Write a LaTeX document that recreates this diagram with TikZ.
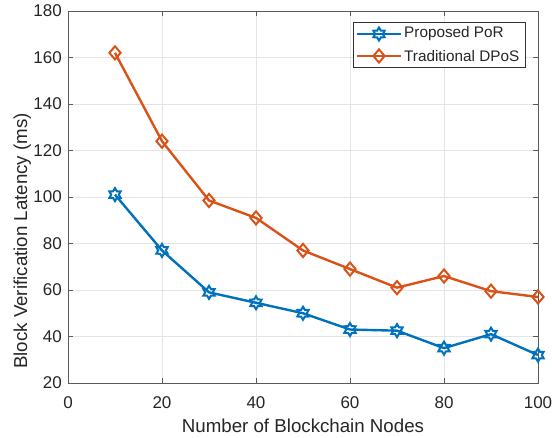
\documentclass[tikz,border=0pt]{standalone}
\usepackage{fontspec}
\setmainfont{Liberation Sans}
\usetikzlibrary{shapes.geometric,calc}

\definecolor{porblue}{RGB}{0,114,189}
\definecolor{dposorange}{RGB}{217,83,25}
\definecolor{axisgray}{RGB}{90,90,90}
\definecolor{gridgray}{RGB}{228,228,228}

\tikzset{
  ticklabel/.style={font=\fontsize{17}{17}\selectfont, text=black!85, inner sep=0pt},
  axislabel/.style={font=\fontsize{18.7}{18.7}\selectfont, text=black!85, inner sep=0pt},
  legendtext/.style={font=\fontsize{15.3}{15.3}\selectfont, text=black!85, inner sep=0pt, anchor=west},
  gridline/.style={draw=gridgray, line width=0.8pt},
  axisline/.style={draw=axisgray, line width=0.9pt},
  porline/.style={draw=porblue, line width=2.4pt, line join=round},
  dposline/.style={draw=dposorange, line width=2.4pt, line join=round},
  pormark/.style={star, star points=6, star point ratio=1.7, minimum size=13pt,
    inner sep=0pt, draw=porblue, line width=2pt},
  dposmark/.style={diamond, minimum width=12pt, minimum height=14pt,
    inner sep=0pt, draw=dposorange, line width=2pt},
}

\begin{document}
\begin{tikzpicture}[x=1pt,y=1pt]
\useasboundingbox[fill=white] (0,0) rectangle (552,438);

% data frame: x in nodes, y in ms
\begin{scope}[shift={(68pt,8.5pt)}, x=4.7pt, y=2.325pt]
  % grid
  \foreach \gx in {20,40,60,80} \draw[gridline] (\gx,20) -- (\gx,180);
  \foreach \gy in {40,60,...,160} \draw[gridline] (0,\gy) -- (100,\gy);

  % tick marks on all four sides
  \foreach \gx in {0,20,...,100} {
    \draw[axisline] (\gx,20) -- ++(0,4.7pt);
    \draw[axisline] (\gx,180) -- ++(0,-4.7pt);
  }
  \foreach \gy in {20,40,...,180} {
    \draw[axisline] (0,\gy) -- ++(4.7pt,0);
    \draw[axisline] (100,\gy) -- ++(-4.7pt,0);
  }

  % frame
  \draw[axisline] (0,20) rectangle (100,180);

  % tick labels
  \foreach \gx in {0,20,...,100}
    \node[ticklabel, anchor=base] (xt\gx) at ([yshift=-26pt]\gx,20) {\gx};
  \foreach \gy in {20,40,...,180}
    \node[ticklabel, anchor=east] (yt\gy) at ([xshift=-6pt]0,\gy) {\gy};

  % Traditional DPoS
  \foreach \i/\px/\py in {1/10/162,2/20/124,3/30/98.5,4/40/91,5/50/77,
                          6/60/69,7/70/61,8/80/66,9/90/59.5,10/100/57}
    \coordinate (d\i) at (\px,\py);
  \draw[dposline] (d1) -- (d2) -- (d3) -- (d4) -- (d5) -- (d6) -- (d7) -- (d8) -- (d9) -- (d10);
  \foreach \i in {1,...,10} \node[dposmark] (dm\i) at (d\i) {};

  % Proposed PoR
  \foreach \i/\px/\py in {1/10/101,2/20/77,3/30/59,4/40/54.5,5/50/50,
                          6/60/43,7/70/42.5,8/80/35,9/90/41,10/100/32}
    \coordinate (p\i) at (\px,\py);
  \draw[porline] (p1) -- (p2) -- (p3) -- (p4) -- (p5) -- (p6) -- (p7) -- (p8) -- (p9) -- (p10);
  \foreach \i in {1,...,10} \node[pormark] (pm\i) at (p\i) {};
\end{scope}

% axis titles
\node[axislabel, anchor=base] (xlabel) at (303,5) {Number of Blockchain Nodes};
\node[axislabel, rotate=90, anchor=base] (ylabel) at (27,197) {Block Verification Latency (ms)};

% legend
\node[draw=black!80, fill=white, line width=0.7pt, minimum width=172pt, minimum height=45pt,
      inner sep=0pt] (legend) at (439,393.5) {};
\coordinate (la1) at (357,404);
\coordinate (lb1) at (401,404);
\coordinate (la2) at (357,382);
\coordinate (lb2) at (401,382);
\draw[porline] (la1) -- (lb1);
\node[pormark] (lm1) at ($(la1)!0.5!(lb1)$) {};
\draw[dposline] (la2) -- (lb2);
\node[dposmark] (lm2) at ($(la2)!0.5!(lb2)$) {};
\node[legendtext] (lt1) at (404,404) {Proposed PoR};
\node[legendtext] (lt2) at (404,382) {Traditional DPoS};
\end{tikzpicture}
\end{document}
